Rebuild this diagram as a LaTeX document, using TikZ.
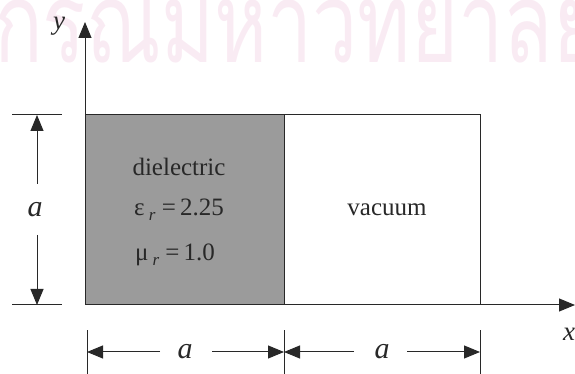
\documentclass[tikz,border=0pt]{standalone}
\usepackage{fontspec}
\setmainfont{Liberation Serif}
\newfontfamily\thaifont[Script=Thai]{Loma}
\usetikzlibrary{arrows.meta}
\definecolor{wmpink}{RGB}{200,60,140}
\definecolor{ln}{RGB}{40,40,40}
\definecolor{diel}{RGB}{155,155,155}
\tikzset{
  edge/.style={draw=ln, line width=1pt},
  arr/.style={edge, -{Triangle[length=16pt,width=13pt]}},
  lab/.style={font=\fontsize{30}{30}\selectfont\itshape, text=ln, inner sep=1pt},
  axlab/.style={font=\fontsize{27}{27}\selectfont\itshape, text=ln, inner sep=1pt},
  txt/.style={font=\fontsize{25}{28}\selectfont, text=ln, inner sep=1pt},
}
\newcommand{\subr}{\raisebox{-5pt}{\fontsize{17}{17}\selectfont\itshape r}}
\begin{document}
\begin{tikzpicture}[x=1pt,y=1pt]
\useasboundingbox (0,0) rectangle (575,374);
\clip (0,0) rectangle (575,374);
% watermark
\node[anchor=base west, text=wmpink, text opacity=0.1, font=\thaifont\fontsize{112}{112}\selectfont, inner sep=0pt, xscale=0.72] (wmk) at (-6,311) {กรณมหาวิทยาลัย};
% regions
\fill[diel] (85,69) rectangle (284,259);
\draw[edge] (85,259) -- (480,259) -- (480,69);
\draw[edge] (284,69) -- (284,259);
% axes
\coordinate (O) at (85,69);
\coordinate (ytop) at (85,352);
\coordinate (xend) at (575,69);
\draw[arr] (O) -- (ytop);
\draw[arr] (O) -- (xend);
\node[axlab] (ylab) at (59,348) {y};
\node[axlab] (xlab) at (569,40) {x};
% text
\node[txt] (diel) at (179,207) {dielectric};
\node[txt] (eps) at (179,164) {ε\,\subr\ =\,2.25};
\node[txt] (mu) at (175,119) {μ\,\subr\ =\,1.0};
\node[txt] (vac) at (387,164) {vacuum};
% left dimension
\draw[edge] (12,259) -- (62,259);
\draw[edge] (12,69) -- (62,69);
\coordinate (lt) at (37,259);
\coordinate (lb) at (37,69);
\node[lab] (la) at (35,164) {a};
\draw[arr] (37,190) -- (lt);
\draw[arr] (37,139) -- (lb);
% bottom dimension
\draw[edge] (87,0) -- (87,44);
\draw[edge] (284,0) -- (284,44);
\draw[edge] (480,0) -- (480,44);
\coordinate (b1) at (87,22);
\coordinate (b2) at (284,22);
\coordinate (b3) at (480,22);
\node[lab] (ba1) at (185,22) {a};
\node[lab] (ba2) at (382,22) {a};
\draw[arr] (160,22) -- (b1);
\draw[arr] (212,22) -- (b2);
\draw[arr] (354,22) -- (b2);
\draw[arr] (407,22) -- (b3);
\end{tikzpicture}
\end{document}
